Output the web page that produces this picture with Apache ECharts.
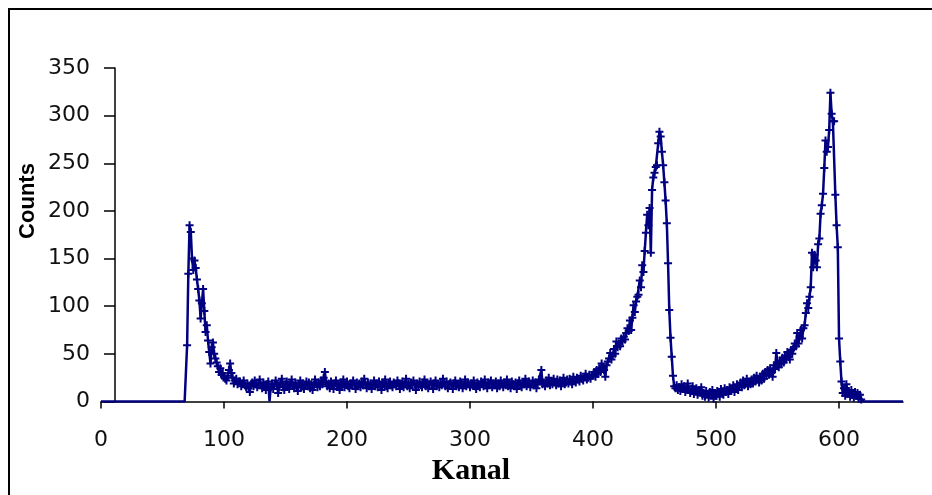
<!DOCTYPE html>
<html>
<head>
<meta charset="utf-8">
<script src="https://cdn.jsdelivr.net/npm/echarts@6/dist/echarts.min.js"></script>
<style>
  html, body { margin: 0; padding: 0; background: #fff; }
  #chart { width: 932px; height: 495px; }
</style>
</head>
<body>
<div id="chart"></div>
<script>
// Gamma spectrum: counts per channel, channel numbers start at firstChannel
const firstChannel = 0;

// channels 0-69: below threshold
const belowThreshold = [
  0, 0, 0, 0, 0, 0, 0, 0, 0, 0,
  0, 0, 0, 0, 0, 0, 0, 0, 0, 0,
  0, 0, 0, 0, 0, 0, 0, 0, 0, 0,
  0, 0, 0, 0, 0, 0, 0, 0, 0, 0,
  0, 0, 0, 0, 0, 0, 0, 0, 0, 0,
  0, 0, 0, 0, 0, 0, 0, 0, 0, 0,
  0, 0, 0, 0, 0, 0, 0, 0, 0, 0
];

// channels 70-119: low-energy edge and decay
const lowEdge = [
  59, 134, 185, 178, 150, 138, 148, 140, 128, 118,
  106, 87, 103, 118, 95, 73, 80, 64, 52, 40,
  57, 62, 50, 45, 41, 37, 31, 35, 28, 30,
  26, 24, 22, 27, 33, 40, 30, 25, 19, 22,
  24, 18, 21, 21, 16, 19, 22, 17, 15, 19
];

// channels 120-399: continuum
const continuum = [
  14, 10, 18, 20, 16, 22, 18, 15, 19, 23,
  17, 14, 20, 16, 12, 18, 21, 0, 15, 19,
  13, 17, 22, 18, 9, 16, 20, 24, 15, 12,
  18, 21, 16, 13, 19, 23, 17, 14, 20, 16,
  11, 18, 22, 15, 19, 13, 17, 21, 16, 20,
  14, 18, 12, 17, 23, 19, 15, 20, 16, 22,
  18, 25, 31, 20, 16, 19, 14, 21, 17, 13,
  19, 22, 16, 18, 12, 20, 17, 23, 15, 18,
  21, 16, 14, 19, 17, 22, 18, 13, 20, 16,
  19, 15, 21, 17, 24, 18, 14, 20, 16, 19,
  13, 18, 22, 16, 19, 15, 21, 17, 12, 20,
  18, 23, 16, 14, 19, 21, 17, 15, 20, 18,
  16, 22, 19, 13, 17, 21, 15, 18, 24, 16,
  19, 14, 20, 17, 22, 18, 12, 19, 16, 21,
  17, 15, 20, 23, 16, 19, 14, 18, 21, 17,
  13, 19, 22, 16, 18, 15, 20, 17, 24, 19,
  16, 21, 14, 18, 20, 17, 13, 19, 22, 16,
  18, 15, 21, 19, 14, 17, 23, 16, 20, 18,
  15, 19, 17, 22, 16, 13, 20, 18, 15, 21,
  19, 16, 23, 17, 14, 20, 18, 22, 15, 19,
  17, 21, 14, 19, 16, 22, 18, 15, 20, 17,
  23, 16, 19, 14, 21, 18, 16, 20, 13, 19,
  22, 17, 15, 20, 18, 24, 16, 19, 21, 15,
  18, 22, 17, 20, 14, 19, 23, 21, 33, 18,
  20, 16, 22, 19, 25, 17, 21, 18, 24, 20,
  17, 23, 19, 22, 16, 21, 25, 18, 20, 23,
  19, 24, 21, 18, 26, 22, 20, 25, 23, 21,
  27, 24, 22, 26, 29, 23, 25, 28, 24, 27
];

// channels 400-469: first photopeak
const peakA = [
  28, 31, 26, 33, 29, 35, 31, 40, 36, 33,
  26, 38, 42, 45, 51, 44, 48, 55, 50, 63,
  57, 61, 58, 66, 63, 68, 65, 72, 77, 74,
  85, 75, 88, 101, 94, 105, 110, 112, 127, 120,
  143, 136, 158, 177, 196, 185, 203, 156, 222, 235,
  240, 246, 248, 271, 283, 278, 262, 248, 230, 211,
  187, 145, 96, 67, 47, 27, 16, 14, 17, 12
];

// channels 470-569: valley between the peaks
const valley = [
  15, 11, 18, 13, 16, 10, 14, 19, 12, 9,
  13, 16, 8, 11, 14, 7, 12, 10, 15, 6,
  9, 5, 11, 8, 4, 10, 7, 12, 3, 9,
  6, 11, 8, 5, 13, 9, 7, 14, 10, 12,
  8, 15, 11, 13, 17, 10, 14, 18, 12, 16,
  20, 15, 22, 17, 19, 24, 16, 21, 18, 23,
  19, 25, 21, 27, 23, 20, 26, 22, 29, 24,
  31, 27, 33, 28, 35, 30, 26, 38, 34, 51,
  40, 36, 43, 39, 46, 41, 48, 44, 52, 47,
  44, 54, 50, 56, 61, 58, 72, 61, 68, 75
];

// channels 570-603: second photopeak
const peakB = [
  66, 77, 80, 93, 103, 98, 110, 120, 156, 141,
  154, 148, 141, 165, 171, 197, 206, 218, 245, 274,
  262, 267, 285, 324, 302, 294, 294, 217, 185, 162,
  66, 42, 21, 9
];

// channels 604-652: high-energy tail
const tail = [
  14, 6, 18, 8, 11, 5, 12, 7, 4, 10,
  6, 9, 3, 7, 2, 0, 0, 0, 0, 0,
  0, 0, 0, 0, 0, 0, 0, 0, 0, 0,
  0, 0, 0, 0, 0, 0, 0, 0, 0, 0,
  0, 0, 0, 0, 0, 0, 0, 0, 0
];

const xTickValues = [0, 100, 200, 300, 400, 500, 600];
const yTickValues = [0, 50, 100, 150, 200, 250, 300, 350];

const counts = [].concat(belowThreshold, lowEdge, continuum, peakA, valley, peakB, tail);
const points = counts.map((c, i) => [firstChannel + i, c]);

const NAVY = '#000080';
// plus-shaped marker, arms a quarter of the symbol size thick
const PLUS = 'path://M3,0h2v3h3v2h-3v3h-2v-3h-3v-2h3z';

const chart = echarts.init(document.getElementById('chart'), null, { renderer: 'canvas' });

chart.setOption({
  animation: false,
  backgroundColor: '#ffffff',
  grid: { left: 101, right: 29, top: 68, bottom: 93.5, containLabel: false },
  xAxis: {
    type: 'value',
    min: 0,
    max: 652,
    interval: 100,
    splitLine: { show: false },
    axisLine: { onZero: false, lineStyle: { color: '#000', width: 1.5 } },
    axisTick: { length: 7, customValues: xTickValues, lineStyle: { color: '#000', width: 1.5 } },
    axisLabel: {
      customValues: xTickValues,
      margin: 28,
      color: '#111',
      fontFamily: 'DejaVu Sans',
      fontSize: 22
    }
  },
  yAxis: {
    type: 'value',
    min: 0,
    max: 350,
    interval: 50,
    offset: -14,
    splitLine: { show: false },
    axisLine: { show: true, onZero: false, lineStyle: { color: '#000', width: 1.5 } },
    axisTick: { show: true, length: 11, customValues: yTickValues, lineStyle: { color: '#000', width: 1.5 } },
    axisLabel: {
      customValues: yTickValues,
      margin: 25,
      color: '#111',
      fontFamily: 'DejaVu Sans',
      fontSize: 22
    }
  },
  series: [{
    type: 'line',
    data: points,
    showSymbol: true,
    showAllSymbol: true,
    // empty channels sit on the baseline as a plain line
    symbol: (value) => (value[1] === 0 ? 'none' : PLUS),
    symbolSize: 8,
    lineStyle: { color: NAVY, width: 2.5 },
    itemStyle: { color: NAVY },
    emphasis: { disabled: true }
  }],
  graphic: [
    {
      type: 'rect',
      silent: true,
      shape: { x: 9, y: 9, width: 1000, height: 1000 },
      style: { fill: 'none', stroke: '#000', lineWidth: 2 }
    },
    {
      type: 'text',
      silent: true,
      x: 28,
      y: 201,
      rotation: Math.PI / 2,
      style: {
        text: 'Counts',
        fontFamily: '"Liberation Sans", Arial, sans-serif',
        fontWeight: 'bold',
        fontSize: 22,
        fill: '#000',
        align: 'center',
        verticalAlign: 'middle'
      }
    },
    {
      type: 'text',
      silent: true,
      x: 471,
      y: 471,
      style: {
        text: 'Kanal',
        fontFamily: '"Liberation Serif", "Times New Roman", serif',
        fontWeight: 'bold',
        fontSize: 30,
        fill: '#000',
        align: 'center',
        verticalAlign: 'middle'
      }
    }
  ]
});
</script>
</body>
</html>
